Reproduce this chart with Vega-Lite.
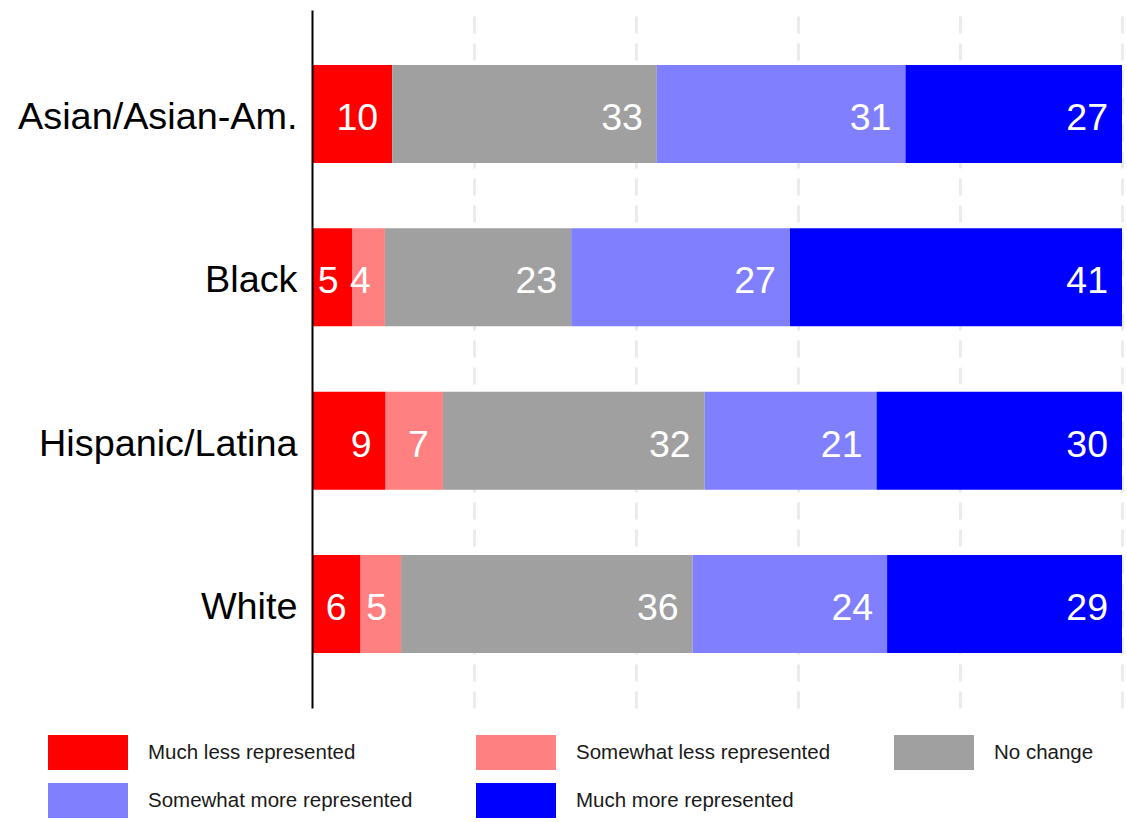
{
  "$schema": "https://vega.github.io/schema/vega-lite/v6.json",
  "autosize": {"type": "none"},
  "padding": {"left": 312, "top": 10, "right": 5, "bottom": 114},
  "width": 810,
  "height": 698,
  "config": {
    "view": {"stroke": null},
    "font": "Liberation Sans"
  },
  "data": {
    "values": [
      {"group": "Asian/Asian-Am.", "response": "Much less represented", "pct": 10},
      {"group": "Asian/Asian-Am.", "response": "No change", "pct": 33},
      {"group": "Asian/Asian-Am.", "response": "Somewhat more represented", "pct": 31},
      {"group": "Asian/Asian-Am.", "response": "Much more represented", "pct": 27},
      {"group": "Black", "response": "Much less represented", "pct": 5},
      {"group": "Black", "response": "Somewhat less represented", "pct": 4},
      {"group": "Black", "response": "No change", "pct": 23},
      {"group": "Black", "response": "Somewhat more represented", "pct": 27},
      {"group": "Black", "response": "Much more represented", "pct": 41},
      {"group": "Hispanic/Latina", "response": "Much less represented", "pct": 9},
      {"group": "Hispanic/Latina", "response": "Somewhat less represented", "pct": 7},
      {"group": "Hispanic/Latina", "response": "No change", "pct": 32},
      {"group": "Hispanic/Latina", "response": "Somewhat more represented", "pct": 21},
      {"group": "Hispanic/Latina", "response": "Much more represented", "pct": 30},
      {"group": "White", "response": "Much less represented", "pct": 6},
      {"group": "White", "response": "Somewhat less represented", "pct": 5},
      {"group": "White", "response": "No change", "pct": 36},
      {"group": "White", "response": "Somewhat more represented", "pct": 24},
      {"group": "White", "response": "Much more represented", "pct": 29}
    ]
  },
  "transform": [
    {"calculate": "indexof(['Much less represented','Somewhat less represented','No change','Somewhat more represented','Much more represented'], datum.response)", "as": "ord"}
  ],
  "encoding": {
    "y": {
      "field": "group",
      "type": "nominal",
      "sort": ["Asian/Asian-Am.", "Black", "Hispanic/Latina", "White"],
      "scale": {"paddingInner": 0.4, "paddingOuter": 0.336},
      "axis": {
        "title": null,
        "ticks": false,
        "tickSize": 0,
        "labelPadding": 15,
        "labelOffset": 4,
        "labelFontSize": 37.8,
        "labelLimit": 400,
        "labelColor": "#000000",
        "labelFont": "Liberation Sans",
        "domainColor": "#000000",
        "domainWidth": 2,
        "grid": false,
        "zindex": 1
      }
    },
    "x": {
      "field": "pct",
      "type": "quantitative",
      "stack": "normalize",
      "scale": {"domain": [0, 1], "nice": false},
      "axis": {
        "title": null,
        "values": [0.2, 0.4, 0.6, 0.8, 1],
        "labels": false,
        "ticks": false,
        "domain": false,
        "grid": true,
        "gridColor": "#EBEBEB",
        "gridWidth": 3,
        "gridDash": [17, 10],
        "zindex": 0
      }
    },
    "order": {"field": "ord", "type": "quantitative"}
  },
  "layer": [
    {
      "mark": {"type": "bar"},
      "encoding": {
        "color": {
          "field": "response",
          "type": "nominal",
          "scale": {
            "domain": ["Much less represented", "Somewhat less represented", "No change", "Somewhat more represented", "Much more represented"],
            "range": ["#FF0000", "#FF8080", "#A0A0A0", "#8080FF", "#0000FF"]
          },
          "legend": {
            "title": null,
            "orient": "none",
            "legendX": -264,
            "legendY": 725,
            "direction": "horizontal",
            "columns": 3,
            "clipHeight": 35,
            "symbolType": "M-1,-0.4375H1V0.4375H-1Z",
            "symbolSize": 6400,
            "symbolStrokeWidth": 0,
            "symbolOpacity": 1,
            "labelOffset": 20,
            "labelFontSize": 20.5,
            "labelFont": "Liberation Sans",
            "labelColor": "#1a1a1a",
            "labelLimit": 400,
            "columnPadding": 63,
            "rowPadding": 13,
            "padding": 0
          }
        }
      }
    },
    {
      "mark": {"type": "text", "align": "right", "baseline": "middle", "dx": -14, "dy": 5, "fontSize": 37.5, "color": "#FFFFFF", "font": "Liberation Sans"},
      "encoding": {
        "text": {"field": "pct", "type": "quantitative"}
      }
    }
  ]
}
